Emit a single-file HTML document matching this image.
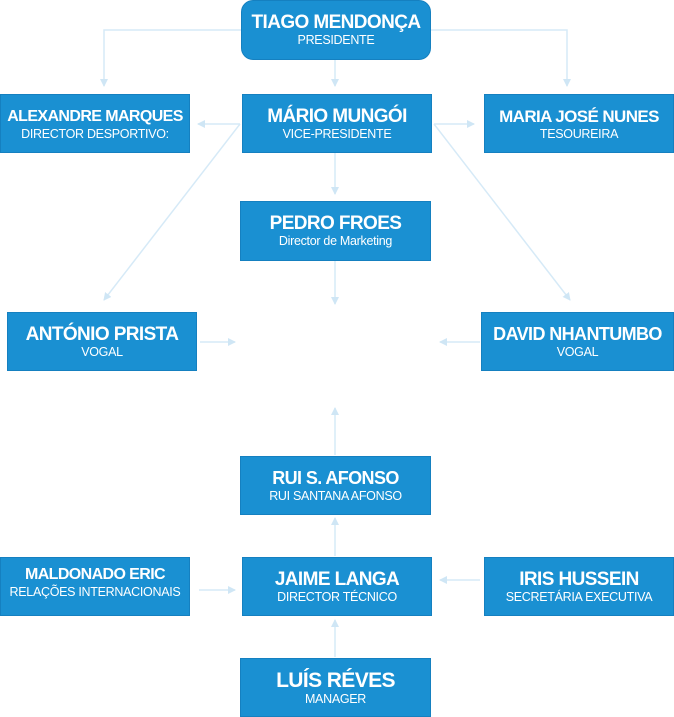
<!DOCTYPE html>
<html><head><meta charset="utf-8"><style>
body{margin:0;width:674px;height:717px;background:#fff;position:relative;overflow:hidden;font-family:"Liberation Sans Narrow","Liberation Sans",sans-serif;}
.b{position:absolute;background:#1a90d2;border:1px solid #1580c0;box-sizing:border-box;color:#fff;text-align:center;display:flex;flex-direction:column;justify-content:center;}
.t{font-weight:bold;font-size:19px;line-height:21px;letter-spacing:-0.6px;white-space:nowrap;}
.s{font-size:12.5px;line-height:15px;letter-spacing:-0.3px;white-space:nowrap;}
svg{position:absolute;left:0;top:0;}
</style></head><body>
<svg width="674" height="717">
<defs><marker id="a" markerWidth="8" markerHeight="8" refX="7" refY="4" orient="auto" markerUnits="userSpaceOnUse"><path d="M0,0 L8,4 L0,8 z" fill="#cfe6f5"/></marker></defs>
<g stroke="#d6eaf7" stroke-width="1.5" fill="none" marker-end="url(#a)">
<path d="M241,30 H104 V86"/>
<path d="M431,30 H567 V86"/>
<path d="M335,60 V86"/>
<path d="M240,124 H198"/>
<path d="M434,124 H474"/>
<path d="M335,153 V194"/>
<path d="M240,124 L104,300"/>
<path d="M434,124 L570,300"/>
<path d="M335,261 V304"/>
<path d="M200,342 H235"/>
<path d="M480,342 H440"/>
<path d="M335,455 V408"/>
<path d="M335,556 V518"/>
<path d="M199,590 H235"/>
<path d="M480,580 H440"/>
<path d="M335,657 V620"/>
</g></svg>
<div class="b" style="left:241px;top:0;width:190px;height:60px;border-radius:12px;"><div class="t">TIAGO MENDONÇA</div><div class="s">PRESIDENTE</div></div>
<div class="b" style="left:0;top:94px;width:190px;height:59px;"><div class="t" style="font-size:16px">ALEXANDRE MARQUES</div><div class="s">DIRECTOR DESPORTIVO:</div></div>
<div class="b" style="left:242px;top:94px;width:190px;height:59px;"><div class="t">MÁRIO MUNGÓI</div><div class="s">VICE-PRESIDENTE</div></div>
<div class="b" style="left:484px;top:94px;width:190px;height:59px;"><div class="t" style="font-size:17px">MARIA JOSÉ NUNES</div><div class="s">TESOUREIRA</div></div>
<div class="b" style="left:240px;top:201px;width:191px;height:60px;"><div class="t">PEDRO FROES</div><div class="s">Director de Marketing</div></div>
<div class="b" style="left:7px;top:312px;width:190px;height:59px;"><div class="t">ANTÓNIO PRISTA</div><div class="s">VOGAL</div></div>
<div class="b" style="left:481px;top:312px;width:193px;height:59px;"><div class="t" style="font-size:18px">DAVID NHANTUMBO</div><div class="s">VOGAL</div></div>
<div class="b" style="left:240px;top:456px;width:191px;height:59px;"><div class="t" style="font-size:18px">RUI S. AFONSO</div><div class="s">RUI SANTANA AFONSO</div></div>
<div class="b" style="left:0;top:557px;width:190px;height:59px;justify-content:flex-start;padding-top:6px;"><div class="t" style="font-size:16px">MALDONADO ERIC</div><div class="s">RELAÇÕES INTERNACIONAIS</div></div>
<div class="b" style="left:242px;top:557px;width:190px;height:59px;"><div class="t">JAIME LANGA</div><div class="s">DIRECTOR TÉCNICO</div></div>
<div class="b" style="left:484px;top:557px;width:190px;height:59px;"><div class="t">IRIS HUSSEIN</div><div class="s">SECRETÁRIA EXECUTIVA</div></div>
<div class="b" style="left:240px;top:658px;width:191px;height:59px;"><div class="t" style="font-size:21px;line-height:23px">LUÍS RÉVES</div><div class="s">MANAGER</div></div>
</body></html>
